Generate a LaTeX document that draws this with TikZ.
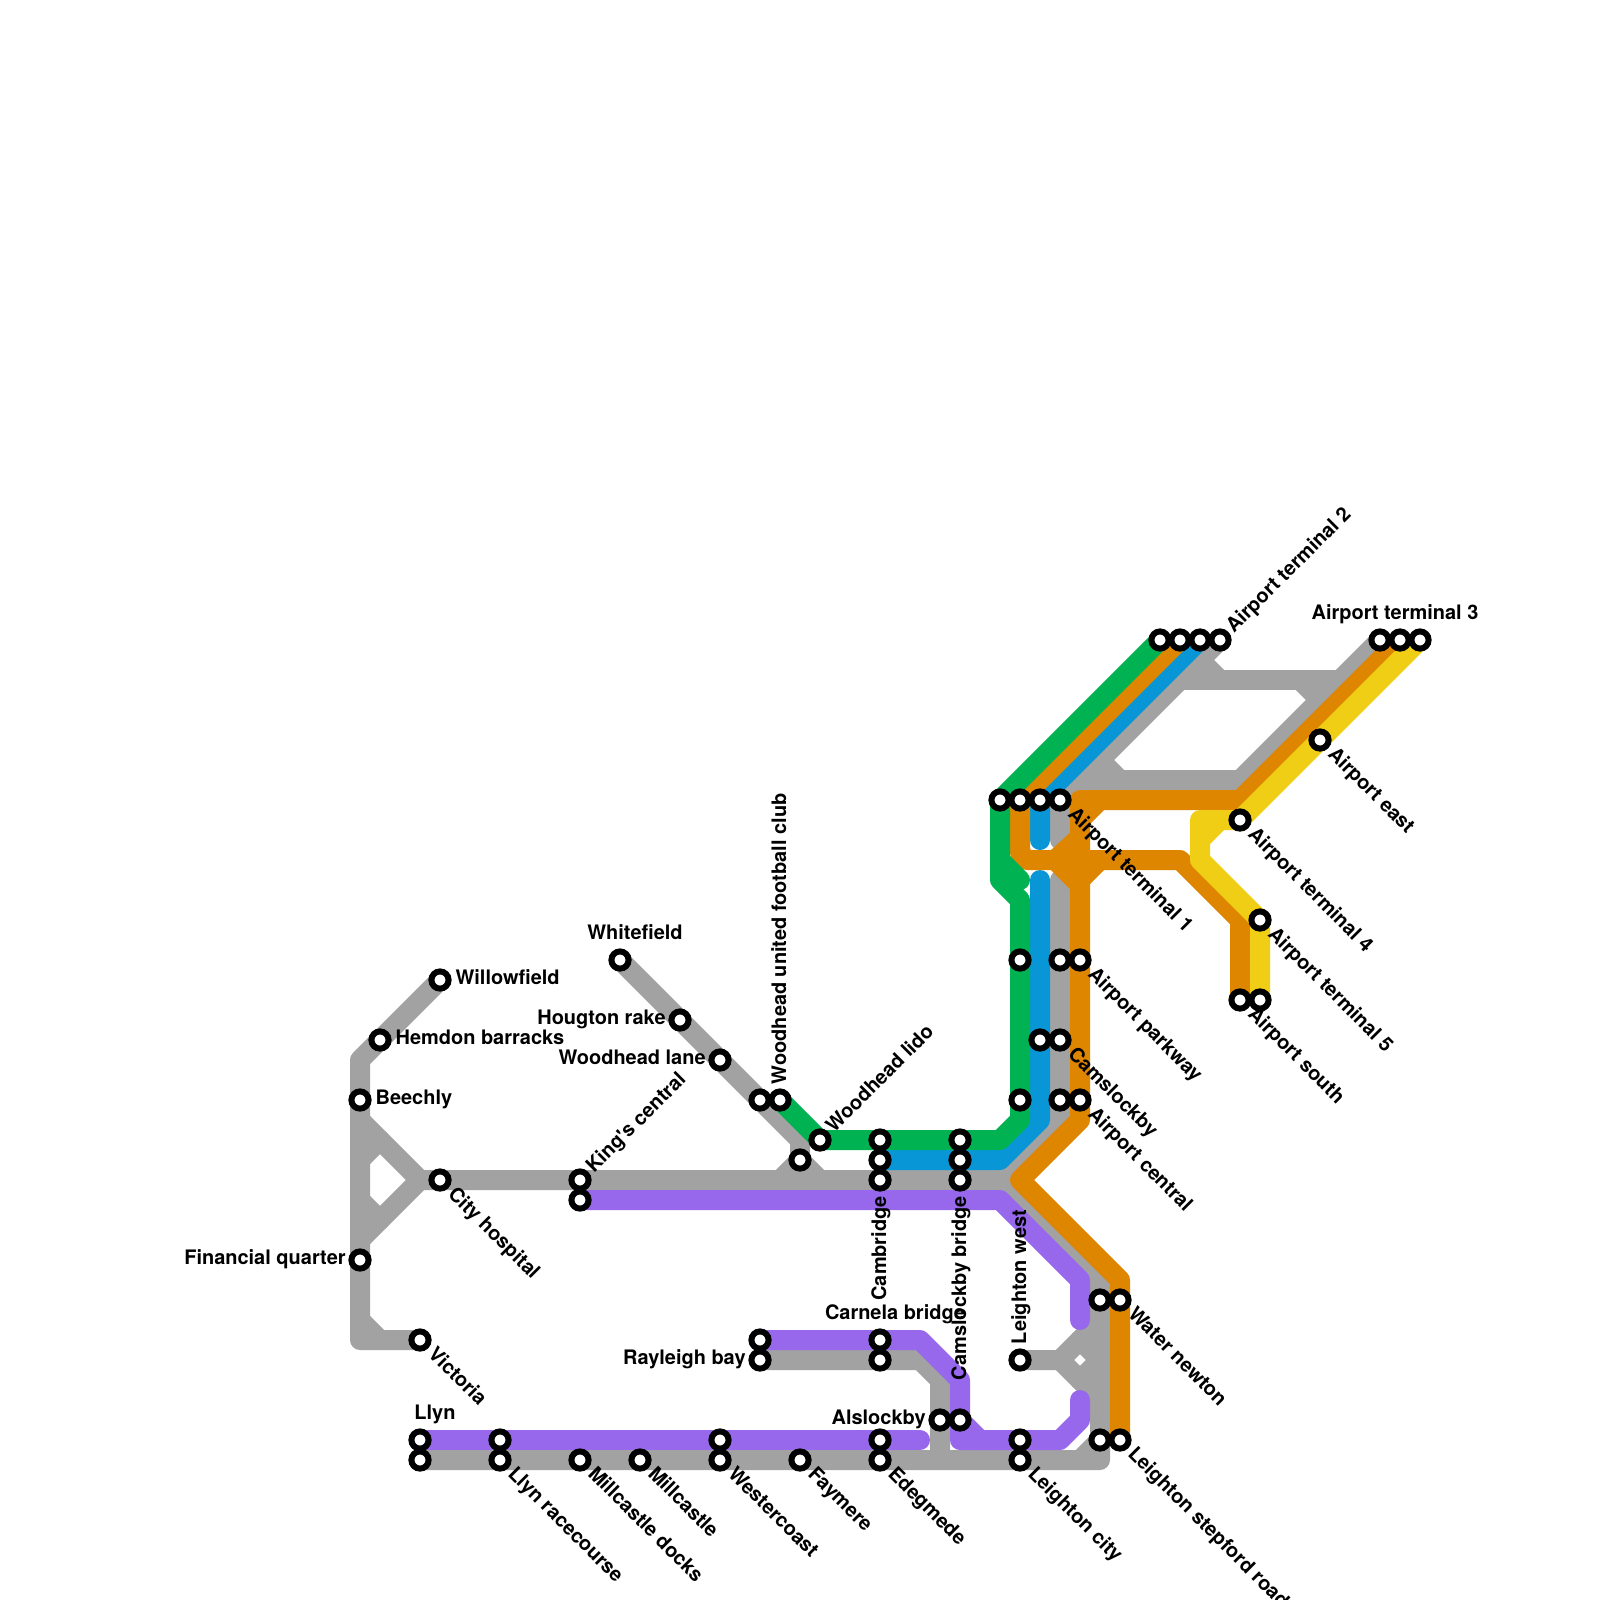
\documentclass[tikz,border=0pt]{standalone}
\usepackage{fontspec}
\setmainfont{TeX Gyre Heros}
\usetikzlibrary{backgrounds}
\definecolor{LineGray}  {HTML}{A2A2A2}
\definecolor{LineGreen} {HTML}{00B251}
\definecolor{LineBlue}  {HTML}{0896D7}
\definecolor{LineOrange}{HTML}{DF8600}
\definecolor{LinePurple}{HTML}{9768EC}
\definecolor{LineYellow}{HTML}{F0CE15}
\tikzset{
  route/.style={line width=0.5cm, line cap=round, line join=round},
  stn/.style={circle, draw=black, fill=white, line width=0.15cm, minimum size=0.43cm, inner sep=0pt, outer sep=0pt},
  lbl/.style={font=\fontsize{14.2}{16}\selectfont\bfseries, inner sep=0pt, outer sep=0pt},
  lblR/.style={lbl, shift={(0.78,0.2)}, anchor=base west},
  lblL/.style={lbl, shift={(-0.72,0.2)}, anchor=base east},
  lblT/.style={lbl, shift={(0.75,-1.02)}, anchor=base},
  lblDown/.style={lbl, shift={(0.3,0.8)}, rotate=90, anchor=base east},
  lblUp/.style={lbl, shift={(0.3,-0.8)}, rotate=90, anchor=base west},
  lblNE/.style={lbl, shift={(0.7,-0.32)}, rotate=45, anchor=base west},
  lblSE/.style={lbl, shift={(0.35,0.75)}, rotate=-45, anchor=base west},
}

\begin{document}
\begin{tikzpicture}[x=0.5cm, y=-0.5cm]
  \useasboundingbox (0,0) rectangle (80,80);

  \node[stn] (willowfield)  at (22,49) {};
  \node[stn] (hemdon)       at (19,52) {};
  \node[stn] (beechly)      at (18,55) {};
  \node[stn] (cityHospital) at (22,59) {};
  \node[stn] (financial)    at (18,63) {};
  \node[stn] (victoria)     at (21,67) {};
  \node[stn] (kingsGray)    at (29,59) {};
  \node[stn] (kingsPurple)  at (29,60) {};
  \node[stn] (whitefield)   at (31,48) {};
  \node[stn] (hougton)      at (34,51) {};
  \node[stn] (woodLane)     at (36,53) {};
  \node[stn] (clubGray)     at (38,55) {};
  \node[stn] (clubGreen)    at (39,55) {};
  \node[stn] (lido)         at (41,57) {};
  \node[stn] (lidoStub)     at (40,58) {};
  \node[stn] (cambGreen)    at (44,57) {};
  \node[stn] (cambBlue)     at (44,58) {};
  \node[stn] (cambGray)     at (44,59) {};
  \node[stn] (bridgeGreen)  at (48,57) {};
  \node[stn] (bridgeBlue)   at (48,58) {};
  \node[stn] (bridgeGray)   at (48,59) {};
  \node[stn] (rayPurple)    at (38,67) {};
  \node[stn] (rayGray)      at (38,68) {};
  \node[stn] (carnPurple)   at (44,67) {};
  \node[stn] (carnGray)     at (44,68) {};
  \node[stn] (alsGray)      at (47,71) {};
  \node[stn] (alsPurple)    at (48,71) {};
  \node[stn] (llynPurple)   at (21,72) {};
  \node[stn] (llynGray)     at (21,73) {};
  \node[stn] (racePurple)   at (25,72) {};
  \node[stn] (raceGray)     at (25,73) {};
  \node[stn] (docks)        at (29,73) {};
  \node[stn] (millcastle)   at (32,73) {};
  \node[stn] (westPurple)   at (36,72) {};
  \node[stn] (westGray)     at (36,73) {};
  \node[stn] (faymere)      at (40,73) {};
  \node[stn] (edegPurple)   at (44,72) {};
  \node[stn] (edegGray)     at (44,73) {};
  \node[stn] (cityPurple)   at (51,72) {};
  \node[stn] (cityGray)     at (51,73) {};
  \node[stn] (lwest)        at (51,68) {};
  \node[stn] (waterGray)    at (55,65) {};
  \node[stn] (waterOrange)  at (56,65) {};
  \node[stn] (stepGray)     at (55,72) {};
  \node[stn] (stepOrange)   at (56,72) {};
  \node[stn] (centGreen)    at (51,55) {};
  \node[stn] (centGray)     at (53,55) {};
  \node[stn] (centOrange)   at (54,55) {};
  \node[stn] (camsBlue)     at (52,52) {};
  \node[stn] (camsGray)     at (53,52) {};
  \node[stn] (parkGreen)    at (51,48) {};
  \node[stn] (parkGray)     at (53,48) {};
  \node[stn] (parkOrange)   at (54,48) {};
  \node[stn] (oneGreen)     at (50,40) {};
  \node[stn] (oneOrange)    at (51,40) {};
  \node[stn] (oneBlue)      at (52,40) {};
  \node[stn] (oneGray)      at (53,40) {};
  \node[stn] (twoGreen)     at (58,32) {};
  \node[stn] (twoOrange)    at (59,32) {};
  \node[stn] (twoBlue)      at (60,32) {};
  \node[stn] (twoGray)      at (61,32) {};
  \node[stn] (threeGray)    at (69,32) {};
  \node[stn] (threeOrange)  at (70,32) {};
  \node[stn] (threeYellow)  at (71,32) {};
  \node[stn] (east)         at (66,37) {};
  \node[stn] (four)         at (62,41) {};
  \node[stn] (five)         at (63,46) {};
  \node[stn] (southOrange)  at (62,50) {};
  \node[stn] (southYellow)  at (63,50) {};

  \coordinate (hubTop)    at (18,56);
  \coordinate (hubMid)    at (21,59);
  \coordinate (hubBot)    at (18,62);
  \coordinate (hubInA)    at (19,57);
  \coordinate (hubInB)    at (18,58);
  \coordinate (hubInC)    at (18,60);
  \coordinate (hubInD)    at (19,61);
  \coordinate (vicA)      at (18,66);
  \coordinate (vicB)      at (19,67);
  \coordinate (stubEast)  at (41,59);
  \coordinate (stubWest)  at (39,59);
  \coordinate (junction)  at (50,59);
  \coordinate (grayTop)   at (53,44);
  \coordinate (grayTip)   at (53,42);
  \coordinate (blueTop)   at (52,44);
  \coordinate (blueTip)   at (52,42);
  \coordinate (forkMid)   at (53,68);
  \coordinate (forkTop)   at (55,66);
  \coordinate (forkBot)   at (55,70);
  \coordinate (forkInA)   at (54,67);
  \coordinate (forkInB)   at (55,68);
  \coordinate (forkInC)   at (54,69);
  \coordinate (cornerA)   at (54,73);
  \coordinate (alsFoot)   at (47,73);
  \coordinate (loopA)     at (60,33);
  \coordinate (loopB)     at (66,35);
  \coordinate (loopC)     at (55,38);
  \coordinate (loopD)     at (59,34);
  \coordinate (loopE)     at (67,34);
  \coordinate (loopF)     at (54,39);
  \coordinate (loopG)     at (62,39);
  \coordinate (greenA)    at (50,43);
  \coordinate (greenB)    at (51,44);
  \coordinate (purpleEnd) at (46,72);
  \coordinate (purpleUp)  at (54,66);
  \coordinate (purpleLow) at (54,70);
  \coordinate (purpleA)   at (49,72);
  \coordinate (orangeA)   at (55,40);
  \coordinate (orangeB)   at (54,41);
  \coordinate (orangeC)   at (54,41.85);
  \coordinate (orangeD)   at (52.75,43);
  \coordinate (orangeE)   at (54,44.25);
  \coordinate (orangeF)   at (55,43);
  \coordinate (orangeG)   at (54,44);
  \coordinate (yellowA)   at (61,41);
  \coordinate (yellowB)   at (60,42);

  \begin{scope}[on background layer]
    \fill[white] (0,0) rectangle (80,80);

    \draw[route, LineGray] (willowfield.center) -- (hemdon.center) -- (18,53) -- (beechly.center) -- (financial.center) -- (18,67) -- (victoria.center);
    \draw[route, LineGray] (vicA) -- (vicB);
    \draw[route, LineGray] (hubTop) -- (hubMid) -- (hubBot);
    \draw[route, LineGray] (hubInA) -- (hubInB);
    \draw[route, LineGray] (hubInC) -- (hubInD);
    \draw[route, LineGray] (hubMid) -- (cityHospital.center) -- (kingsGray.center) -- (cambGray.center) -- (bridgeGray.center) -- (junction) -- (53,56) -- (centGray.center) -- (camsGray.center) -- (parkGray.center) -- (grayTop);
    \draw[route, LineGray] (whitefield.center) -- (hougton.center) -- (woodLane.center) -- (clubGray.center) -- (40,57) -- (lidoStub.center) -- (stubEast);
    \draw[route, LineGray] (lidoStub.center) -- (stubWest);
    \draw[route, LineGray] (junction) -- (55,64) -- (waterGray.center) -- (stepGray.center) -- (55,73) -- (cityGray.center) -- (edegGray.center) -- (faymere.center) -- (westGray.center) -- (millcastle.center) -- (docks.center) -- (raceGray.center) -- (llynGray.center);
    \draw[route, LineGray] (rayGray.center) -- (carnGray.center) -- (46,68) -- (47,69) -- (alsGray.center) -- (alsFoot);
    \draw[route, LineGray] (lwest.center) -- (forkMid) -- (forkTop);
    \draw[route, LineGray] (forkMid) -- (forkBot);
    \draw[route, LineGray] (forkInA) -- (forkInB) -- (forkInC);
    \draw[route, LineGray] (stepGray.center) -- (cornerA);
    \draw[route, LineGray] (twoGray.center) -- (oneGray.center) -- (grayTip);
    \draw[route, LineGray] (loopA) -- (61,34);
    \draw[route, LineGray] (loopD) -- (loopE);
    \draw[route, LineGray] (65,34) -- (loopB);
    \draw[route, LineGray] (threeGray.center) -- (loopG);
    \draw[route, LineGray] (loopF) -- (loopG);
    \draw[route, LineGray] (56,39) -- (loopC);

    \draw[route, LineBlue] (twoBlue.center) -- (oneBlue.center) -- (blueTip);
    \draw[route, LineBlue] (blueTop) -- (camsBlue.center) -- (52,56) -- (50,58) -- (bridgeBlue.center) -- (cambBlue.center);

    \draw[route, LinePurple] (llynPurple.center) -- (racePurple.center) -- (westPurple.center) -- (edegPurple.center) -- (purpleEnd);
    \draw[route, LinePurple] (kingsPurple.center) -- (50,60) -- (54,64) -- (purpleUp);
    \draw[route, LinePurple] (rayPurple.center) -- (carnPurple.center) -- (46,67) -- (48,69) -- (alsPurple.center) -- (48,72) -- (cityPurple.center) -- (53,72) -- (54,71) -- (purpleLow);
    \draw[route, LinePurple] (alsPurple.center) -- (purpleA);

    \draw[route, LineOrange] (twoOrange.center) -- (oneOrange.center) -- (51,42.65) -- (51.35,43) -- (59,43) -- (62,46) -- (southOrange.center);
    \draw[route, LineOrange] (threeOrange.center) -- (62,40) -- (54,40) -- (parkOrange.center) -- (centOrange.center) -- (54,56) -- (51,59) -- (56,64) -- (waterOrange.center) -- (stepOrange.center);
    \draw[route, LineOrange] (orangeA) -- (orangeB);
    \draw[route, LineOrange] (orangeC) -- (orangeD) -- (orangeE);
    \draw[route, LineOrange] (orangeF) -- (orangeG);

    \draw[route, LineGreen] (twoGreen.center) -- (oneGreen.center) -- (50,44) -- (51,45) -- (parkGreen.center) -- (centGreen.center) -- (51,56) -- (50,57) -- (bridgeGreen.center) -- (cambGreen.center) -- (lido.center) -- (clubGreen.center);
    \draw[route, LineGreen] (greenA) -- (greenB);

    \draw[route, LineYellow] (threeYellow.center) -- (four.center) -- (60,41) -- (60,43) -- (five.center) -- (southYellow.center);
    \draw[route, LineYellow] (yellowA) -- (yellowB);
  \end{scope}

  \node[lblR] (lbWillowfield) at (willowfield) {Willowfield};
  \node[lblR] (lbHemdon)      at (hemdon) {Hemdon barracks};
  \node[lblR] (lbBeechly)     at (beechly) {Beechly};
  \node[lblL] (lbFinancial)   at (financial) {Financial quarter};
  \node[lblL] (lbHougton)     at (hougton) {Hougton rake};
  \node[lblL] (lbWoodLane)    at (woodLane) {Woodhead lane};
  \node[lblL] (lbRayleigh)    at (rayGray) {Rayleigh bay};
  \node[lblL] (lbAlslockby)   at (alsGray) {Alslockby};
  \node[lblT] (lbWhitefield)  at (whitefield) {Whitefield};
  \node[lblT] (lbLlyn)        at (llynPurple) {Llyn};
  \node[lblT] (lbCarnela)     at (carnPurple) {Carnela bridge};
  \node[lblT] (lbThree)       at (threeGray) {Airport terminal 3};
  \node[lblDown] (lbCambridge) at (cambGray) {Cambridge};
  \node[lblDown] (lbBridge)    at (bridgeGray) {Camslockby bridge};
  \node[lblUp] (lbLwest)      at (lwest) {Leighton west};
  \node[lblUp] (lbClub)       at (clubGreen) {Woodhead united football club};
  \node[lblNE] (lbKings)      at (kingsGray) {King\textquotesingle s central};
  \node[lblNE] (lbLido)       at (lido) {Woodhead lido};
  \node[lblNE] (lbTwo)        at (twoGray) {Airport terminal 2};
  \node[lblSE] (lbCity)       at (cityHospital) {City hospital};
  \node[lblSE] (lbVictoria)   at (victoria) {Victoria};
  \node[lblSE] (lbRace)       at (raceGray) {Llyn racecourse};
  \node[lblSE] (lbDocks)      at (docks) {Millcastle docks};
  \node[lblSE] (lbMillcastle) at (millcastle) {Millcastle};
  \node[lblSE] (lbWest)       at (westGray) {Westercoast};
  \node[lblSE] (lbFaymere)    at (faymere) {Faymere};
  \node[lblSE] (lbEdegmede)   at (edegGray) {Edegmede};
  \node[lblSE] (lbLcity)      at (cityGray) {Leighton city};
  \node[lblSE] (lbWater)      at (waterOrange) {Water newton};
  \node[lblSE] (lbStep)       at (stepOrange) {Leighton stepford road};
  \node[lblSE] (lbCentral)    at (centOrange) {Airport central};
  \node[lblSE] (lbCams)       at (camsGray) {Camslockby};
  \node[lblSE] (lbPark)       at (parkOrange) {Airport parkway};
  \node[lblSE] (lbOne)        at (oneGray) {Airport terminal 1};
  \node[lblSE] (lbEast)       at (east) {Airport east};
  \node[lblSE] (lbFour)       at (four) {Airport terminal 4};
  \node[lblSE] (lbFive)       at (five) {Airport terminal 5};
  \node[lblSE] (lbSouth)      at (southOrange) {Airport south};
\end{tikzpicture}
\end{document}
